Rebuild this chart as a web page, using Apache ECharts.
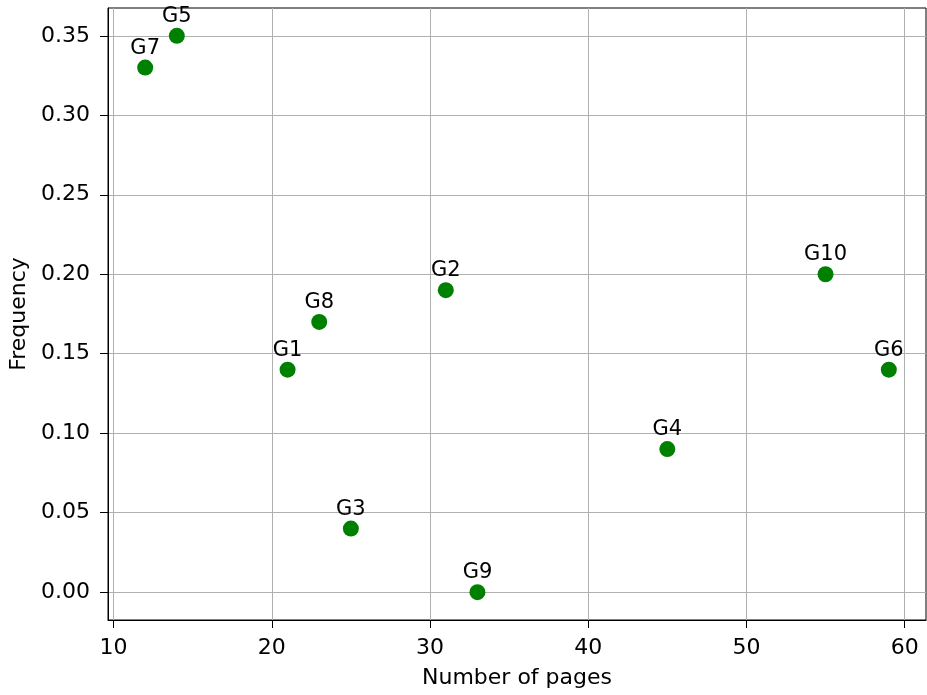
<!DOCTYPE html>
<html lang="en">
  <head>
    <meta charset="UTF-8" />
    <title>Frequency vs pages</title>
    <script src="https://cdn.jsdelivr.net/npm/echarts@6.0.0/dist/echarts.min.js"></script>
    <style>
      html, body { margin: 0; padding: 0; background: #fff; }
    </style>
  </head>
  <body>
    <div id="main" style="width: 927px; height: 695px"></div>
    <script type="text/javascript">
      // data
      const names = ["G1", "G2", "G3", "G4", "G5", "G6", "G7", "G8", "G9", "G10"];
      const pages = [21, 31, 25, 45, 14, 59, 12, 23, 33, 55];
      const freq = [0.14, 0.19, 0.04, 0.09, 0.35, 0.14, 0.33, 0.17, 0.0, 0.2];
      const xTicks = [10, 20, 30, 40, 50, 60];
      const yTicks = [0, 0.05, 0.1, 0.15, 0.2, 0.25, 0.3, 0.35];

      const points = names.map((n, i) => ({ name: n, value: [pages[i], freq[i]] }));
      const font = "DejaVu Sans";

      let options = {
        animation: false,
        textStyle: { fontFamily: font },
        grid: {
          left: 108, right: 1, top: 8, bottom: 75,
          outerBoundsMode: "none",
          containLabel: false,
          show: true, borderColor: "#000", borderWidth: 1,
        },
        xAxis: {
          type: "value",
          min: 9.65,
          max: 61.35,
          name: "Number of pages",
          nameLocation: "middle",
          nameGap: 47,
          nameTextStyle: { fontSize: 22, color: "#000", fontFamily: font },
          axisLine: { show: true, onZero: false, lineStyle: { color: "#000" } },
          axisTick: { show: true, length: 8, customValues: xTicks, lineStyle: { color: "#000" } },
          axisLabel: { customValues: xTicks, fontSize: 22, color: "#000", margin: 17, fontFamily: font },
          splitLine: { show: true, customValues: xTicks, lineStyle: { color: "#b0b0b0", width: 1 } },
        },
        yAxis: {
          type: "value",
          min: -0.0175,
          max: 0.3675,
          name: "Frequency",
          nameLocation: "middle",
          nameRotate: 90,
          nameGap: 78,
          nameTextStyle: { fontSize: 22, color: "#000", fontFamily: font },
          axisLine: { show: true, onZero: false, lineStyle: { color: "#000" } },
          axisTick: { show: true, length: 8, customValues: yTicks, lineStyle: { color: "#000" } },
          axisLabel: {
            customValues: yTicks, fontSize: 22, color: "#000", margin: 18, fontFamily: font,
            formatter: (v) => v.toFixed(2),
          },
          splitLine: { show: true, customValues: yTicks, lineStyle: { color: "#b0b0b0", width: 1 } },
        },
        series: [
          {
            type: "scatter",
            data: points,
            symbolSize: 16,
            itemStyle: { color: "#008000", opacity: 1 },
            label: {
              show: true,
              position: "top",
              distance: 1,
              formatter: (p) => p.name,
              fontSize: 21,
              color: "#000",
              fontFamily: font,
            },
          },
        ],
      };

      let myChart = echarts.init(document.getElementById("main"));
      myChart.setOption(options);
    </script>
  </body>
</html>
